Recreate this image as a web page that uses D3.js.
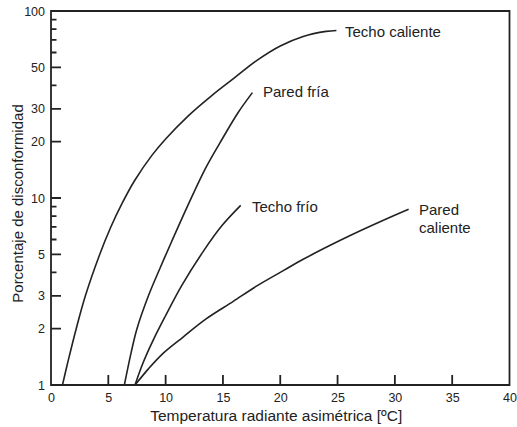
<!DOCTYPE html>
<html>
<head>
<meta charset="utf-8">
<script src="https://cdn.jsdelivr.net/npm/d3@7"></script>
<style>
  html, body { margin: 0; padding: 0; background: #fff; }
  svg text { font-family: "Liberation Sans", Arial, sans-serif; fill: #222; }
</style>
</head>
<body>
<svg id="chart" width="517" height="427"></svg>
<script>
// Radiant asymmetry temperature [ºC] vs. percentage dissatisfied, one array pair per surface
const techoCalienteT = [1.0, 1.5, 2.2, 3.0, 4.2, 5.2, 6.2, 7.3, 8.8, 10.0, 12.0, 14.0, 16.0, 18.0, 20.0, 22.0, 24.0, 24.9];
const techoCalienteP = [1.0, 1.35, 2.0, 3.0, 4.9, 6.95, 9.35, 12.4, 16.9, 20.7, 27.6, 35.2, 43.9, 54.6, 65.0, 73.1, 77.8, 78.7];

const paredFriaT = [6.4, 7.0, 7.5, 8.5, 9.5, 10.5, 12.0, 13.5, 15.0, 16.3, 17.57];
const paredFriaP = [1.0, 1.5, 2.0, 3.0, 4.2, 5.8, 9.3, 14.5, 21.0, 28.5, 36.6];

const techoFrioT = [7.33, 8.0, 9.0, 10.0, 11.4, 13.3, 14.9, 16.55];
const techoFrioP = [1.0, 1.3, 1.78, 2.35, 3.4, 5.2, 7.1, 9.13];

const paredCalienteT = [7.33, 8.5, 9.8, 11.5, 13.5, 15.9, 18.0, 20.3, 22.0, 24.4, 26.1, 29.0, 31.2];
const paredCalienteP = [1.0, 1.22, 1.48, 1.8, 2.25, 2.8, 3.4, 4.1, 4.7, 5.6, 6.3, 7.6, 8.7];

const xTicks = [0, 5, 10, 15, 20, 25, 30, 35, 40];
const yLabelTicks = [1, 2, 3, 5, 10, 20, 30, 50, 100];
const yMinorTicks = [4, 6, 7, 8, 9, 40, 60, 70, 80, 90];

const seriesLabels = [
  { lines: ["Techo caliente"], x: 345, y: 36.5 },
  { lines: ["Pared fría"], x: 263, y: 97 },
  { lines: ["Techo frío"], x: 252, y: 211.5 },
  { lines: ["Pared", "caliente"], x: 419, y: 215 }
];

const svg = d3.select("#chart");
const plotL = 51, plotR = 509.5, plotT = 11, plotB = 385;
const ink = "#222";

const x = d3.scaleLinear().domain([0, 40]).range([plotL, plotR]);
const y = d3.scaleLog().domain([1, 100]).range([plotB, plotT]);

// Curves
const curveGen = d3.line()
  .x(d => x(d[0]))
  .y(d => y(d[1]))
  .curve(d3.curveCatmullRom.alpha(0.5));

const series = [
  d3.zip(techoCalienteT, techoCalienteP),
  d3.zip(paredFriaT, paredFriaP),
  d3.zip(techoFrioT, techoFrioP),
  d3.zip(paredCalienteT, paredCalienteP)
];

svg.append("g")
  .selectAll("path")
  .data(series)
  .join("path")
  .attr("d", curveGen)
  .attr("fill", "none")
  .attr("stroke", ink)
  .attr("stroke-width", 1.6);

// Bottom axis labels
const xAxis = svg.append("g")
  .attr("transform", `translate(0,${plotB})`)
  .call(d3.axisBottom(x).tickValues(xTicks).tickSize(0).tickPadding(8));
xAxis.select(".domain").remove();
xAxis.selectAll(".tick line").remove();
xAxis.selectAll(".tick text").attr("font-size", 12.5).attr("font-family", null).attr("fill", ink);

// Left axis labels
const yAxis = svg.append("g")
  .attr("transform", `translate(${plotL},0)`)
  .call(d3.axisLeft(y).tickValues(yLabelTicks).tickFormat(d3.format("d")).tickSize(0).tickPadding(6));
yAxis.select(".domain").remove();
yAxis.selectAll(".tick line").remove();
yAxis.selectAll(".tick text").attr("font-size", 12.5).attr("font-family", null).attr("fill", ink);

// Frame and inward tick marks as one outline
const frame = d3.path();
frame.rect(plotL, plotT, plotR - plotL, plotB - plotT);
xTicks.forEach(v => { frame.moveTo(x(v), plotB); frame.lineTo(x(v), plotB - 10); });
yLabelTicks.forEach(v => { frame.moveTo(plotL, y(v)); frame.lineTo(plotL + 10, y(v)); });
yMinorTicks.forEach(v => { frame.moveTo(plotL, y(v)); frame.lineTo(plotL + 5.5, y(v)); });
svg.append("path")
  .attr("d", frame.toString())
  .attr("fill", "none")
  .attr("stroke", ink)
  .attr("stroke-width", 1.8);

// Axis titles
svg.append("text")
  .attr("x", (plotL + plotR) / 2 - 4)
  .attr("y", 421)
  .attr("text-anchor", "middle")
  .attr("font-size", 15.5)
  .text("Temperatura radiante asimétrica [ºC]");

svg.append("text")
  .attr("transform", "translate(23,203.5) rotate(-90)")
  .attr("text-anchor", "middle")
  .attr("font-size", 15)
  .text("Porcentaje de disconformidad");

// Curve labels
const lbl = svg.append("g").selectAll("text")
  .data(seriesLabels)
  .join("text")
  .attr("x", d => d.x)
  .attr("y", d => d.y)
  .attr("font-size", 15);
lbl.selectAll("tspan")
  .data(d => d.lines.map((t, i) => ({ t, i, x: d.x })))
  .join("tspan")
  .attr("x", d => d.x)
  .attr("dy", d => d.i === 0 ? 0 : 17.5)
  .text(d => d.t);
</script>
</body>
</html>
